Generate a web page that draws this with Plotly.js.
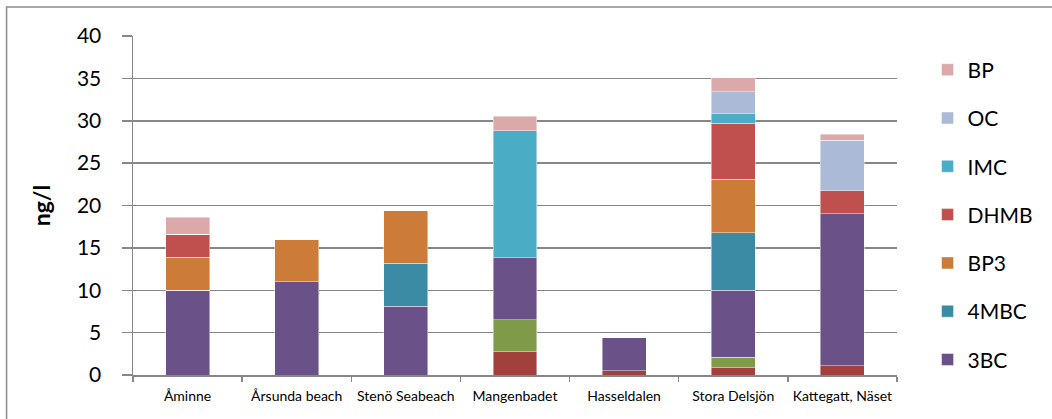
<!DOCTYPE html>
<html>
<head>
<meta charset="utf-8">
<script src="https://cdn.plot.ly/plotly-3.0.1.min.js"></script>
<style>
  html, body { margin: 0; padding: 0; background: #fff; }
  #chart { width: 1052px; height: 419px; }
</style>
</head>
<body>
<div id="chart"></div>
<script>
// Sampling sites along the x axis
const sites = ['Åminne', 'Årsunda beach', 'Stenö Seabeach', 'Mangenbadet', 'Hasseldalen', 'Stora Delsjön', 'Kattegatt, Näset'];

// Concentrations (ng/l) per compound, stacked bottom to top
const serieA = [0, 0, 0, 2.75, 0.5, 0.85, 1.1];     // unlabelled bottom series
const serieB = [0, 0, 0, 3.75, 0, 1.25, 0];         // unlabelled second series
const c3BC   = [10, 11, 8.1, 7.35, 3.9, 7.9, 17.9];
const c4MBC  = [0, 0, 5.1, 0, 0, 6.8, 0];
const cBP3   = [3.9, 5, 6.2, 0, 0, 6.3, 0];
const cDHMB  = [2.7, 0, 0, 0, 0, 6.6, 2.75];
const cIMC   = [0, 0, 0, 15.0, 0, 1.1, 0];
const cOC    = [0, 0, 0, 0, 0, 2.6, 5.95];
const cBP    = [2.0, 0, 0, 1.7, 0, 1.7, 0.7];

const yTicks = [0, 5, 10, 15, 20, 25, 30, 35, 40];

const series = [
  { name: 'Serie A', y: serieA, color: '#A1403D', legend: false },
  { name: 'Serie B', y: serieB, color: '#7F9A48', legend: false },
  { name: '3BC',  y: c3BC,  color: '#6A5188', legend: true },
  { name: '4MBC', y: c4MBC, color: '#3C8BA4', legend: true },
  { name: 'BP3',  y: cBP3,  color: '#CC7B38', legend: true },
  { name: 'DHMB', y: cDHMB, color: '#C0504D', legend: true },
  { name: 'IMC',  y: cIMC,  color: '#4BACC6', legend: true },
  { name: 'OC',   y: cOC,   color: '#AABAD7', legend: true },
  { name: 'BP',   y: cBP,   color: '#DBA9AA', legend: true }
];

// Legend lists the top of the stack first
const traces = series.map((s, i) => ({
  type: 'bar',
  name: s.name,
  x: sites,
  y: s.y,
  showlegend: s.legend,
  legendgroup: s.name,
  legendrank: 100 - i,
  marker: { color: s.color, line: { color: 'rgba(255,255,255,0.55)', width: 0.8 } },
  hoverinfo: 'x+y+name'
}));

const font = 'Lato, "Open Sans", "DejaVu Sans", sans-serif';
const gridGrey = '#878787';

const layout = {
  width: 1052,
  height: 419,
  margin: { l: 133, r: 155, t: 36, b: 44 },
  paper_bgcolor: '#ffffff',
  plot_bgcolor: '#ffffff',
  barmode: 'stack',
  bargap: 0.597,
  font: { family: font, color: '#000' },
  xaxis: {
    type: 'category',
    showline: true,
    linecolor: gridGrey,
    linewidth: 1.5,
    ticks: 'outside',
    tickson: 'boundaries',
    ticklen: 5,
    tickcolor: gridGrey,
    tickwidth: 1.5,
    showgrid: false,
    tickfont: { size: 14, family: font, color: '#000' },
    ticklabelstandoff: 8
  },
  yaxis: {
    range: [0, 40],
    tickvals: yTicks,
    ticktext: yTicks.map(String),
    showline: true,
    linecolor: gridGrey,
    linewidth: 1.5,
    ticks: 'outside',
    ticklen: 10,
    tickcolor: gridGrey,
    tickwidth: 1.5,
    showgrid: true,
    gridcolor: gridGrey,
    gridwidth: 1.5,
    zeroline: false,
    tickfont: { size: 21, family: font, color: '#000' },
    ticklabelstandoff: 16,
    title: { text: '<b>ng/l</b>', font: { size: 23, family: font, color: '#000' }, standoff: 20 }
  },
  legend: {
    x: 1.04,
    xanchor: 'left',
    y: 0.96,
    yanchor: 'top',
    traceorder: 'grouped',
    tracegroupgap: 18,
    font: { size: 21, family: font, color: '#000' },
    bgcolor: 'rgba(0,0,0,0)'
  },
  shapes: [{
    type: 'rect',
    xref: 'paper', yref: 'paper',
    x0: -0.1655, x1: 1.25, y0: -0.2, y1: 1.0855,
    line: { color: '#8a8a8a', width: 1.5 },
    fillcolor: 'rgba(0,0,0,0)',
    layer: 'below'
  }],
  showlegend: true
};

Plotly.newPlot('chart', traces, layout, { displayModeBar: false, staticPlot: true });
</script>
</body>
</html>
